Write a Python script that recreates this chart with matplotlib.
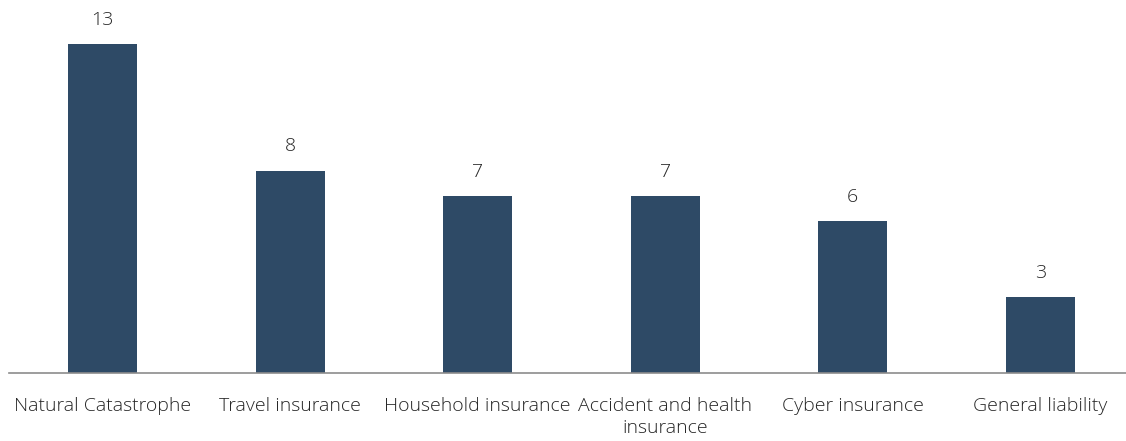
import matplotlib
matplotlib.use("Agg")
import matplotlib.pyplot as plt

categories = ["Natural Catastrophe", "Travel insurance", "Household insurance",
              "Accident and health\ninsurance", "Cyber insurance", "General liability"]
values = [13, 8, 7, 7, 6, 3]

plt.rcParams['font.family'] = ['Open Sans', 'DejaVu Sans']

W, H = 1126, 441
fig = plt.figure(figsize=(W/100, H/100), dpi=100)
left_px, width_px = 9, 1125
bottom_px = H - 373
ax = fig.add_axes([left_px/W, bottom_px/H, width_px/W, 373/H])

x = range(len(categories))
bars = ax.bar(x, values, width=0.37, color="#2E4A66")
ax.set_xlim(-0.5, len(categories) - 0.5)
ax.set_ylim(0, 373/25.3)

for xi, v in zip(x, values):
    ax.annotate(str(v), (xi, v), xytext=(0, 11), textcoords="offset points",
                ha="center", va="bottom", fontsize=14, color="#262626", fontweight="light")

ax.set_xticks(list(x))
ax.set_xticklabels(categories, fontsize=14, color="#262626", fontweight="light", linespacing=1.3)
ax.tick_params(axis="x", length=0, pad=17)
ax.set_yticks([])
for s in ["top", "right", "left"]:
    ax.spines[s].set_visible(False)
ax.spines["bottom"].set_color("#8c8c8c")
ax.spines["bottom"].set_linewidth(1.2)

fig.savefig("out.png", dpi=100)
